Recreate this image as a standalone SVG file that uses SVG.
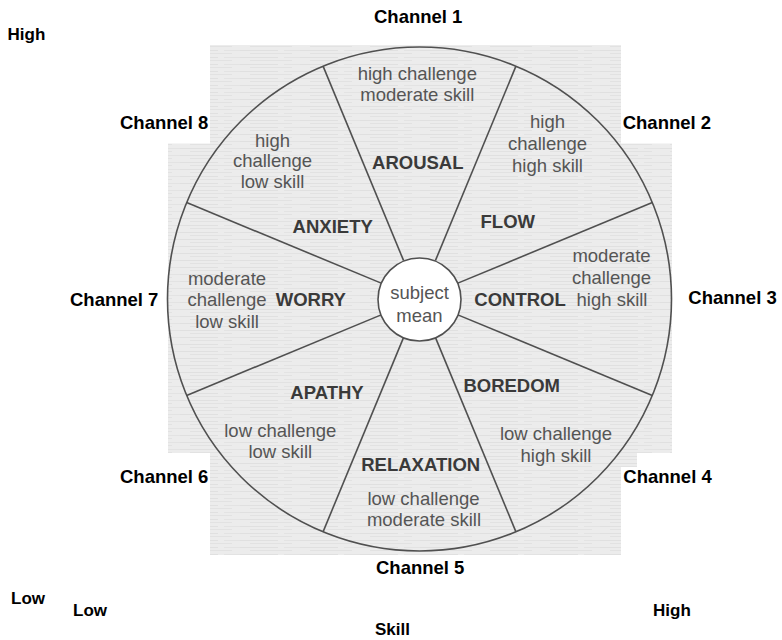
<svg xmlns="http://www.w3.org/2000/svg" width="782" height="640" viewBox="0 0 782 640">
<defs>
<pattern id="paper" patternUnits="userSpaceOnUse" width="60" height="7">
<rect width="60" height="7" fill="#ececec"/>
<line x1="0" y1="1.5" x2="38" y2="1.5" stroke="#e0e0e0" stroke-width="1"/>
<line x1="44" y1="1.5" x2="60" y2="1.5" stroke="#e3e3e3" stroke-width="1"/>
<line x1="10" y1="4.5" x2="52" y2="4.5" stroke="#e2e2e2" stroke-width="1"/>
</pattern>
<style>
.lab{font-family:"Liberation Sans",Arial,Helvetica,sans-serif;font-weight:bold;font-size:18.5px;fill:#000}
.ax{font-family:"Liberation Sans",Arial,Helvetica,sans-serif;font-weight:bold;font-size:17px;fill:#000}
.d{font-family:"Liberation Sans",Arial,Helvetica,sans-serif;font-size:18.5px;fill:#555;text-anchor:middle}
.b{font-family:"Liberation Sans",Arial,Helvetica,sans-serif;font-weight:bold;font-size:18.5px;fill:#3a3a3a;text-anchor:middle}
.ln{stroke:#505050;stroke-width:1.6;fill:none}
</style>
</defs>
<rect width="782" height="640" fill="#fff"/>
<g id="background">
<path d="M210 45 H621 V143.5 H672 V453 H637 V467 H621 V555 H210 V453 H168 V143.5 H210 Z" fill="url(#paper)"/>
</g>
<g id="wheel">
<circle cx="419.5" cy="299" r="252" class="ln"/>
</g>
<g id="connectors" class="ln">
<line x1="435.38" y1="260.66" x2="515.94" y2="66.18"/>
<line x1="457.84" y1="283.12" x2="652.32" y2="202.56"/>
<line x1="457.84" y1="314.88" x2="652.32" y2="395.44"/>
<line x1="435.38" y1="337.34" x2="515.94" y2="531.82"/>
<line x1="403.62" y1="337.34" x2="323.06" y2="531.82"/>
<line x1="381.16" y1="314.88" x2="186.68" y2="395.44"/>
<line x1="381.16" y1="283.12" x2="186.68" y2="202.56"/>
<line x1="403.62" y1="260.66" x2="323.06" y2="66.18"/>
</g>
<g id="hub">
<circle cx="419.5" cy="299.5" r="41.5" fill="#fff" stroke="#505050" stroke-width="1.6"/>
<text class="d" x="419.5" y="299">subject</text>
<text class="d" x="419.5" y="322">mean</text>
</g>
<g id="sector1">
<text class="d" x="417.3" y="79.5">high challenge</text>
<text class="d" x="417.3" y="100.7">moderate skill</text>
<text class="b" x="417.8" y="169.3">AROUSAL</text>
</g>
<g id="sector2">
<text class="d" x="547.5" y="128.3">high</text>
<text class="d" x="547.5" y="150">challenge</text>
<text class="d" x="547.5" y="172">high skill</text>
<text class="b" x="507.8" y="228.3">FLOW</text>
</g>
<g id="sector3">
<text class="d" x="611.5" y="262.3">moderate</text>
<text class="d" x="611.5" y="284.3">challenge</text>
<text class="d" x="612" y="305.7">high skill</text>
<text class="b" x="520" y="305.7">CONTROL</text>
</g>
<g id="sector4">
<text class="b" x="511.7" y="392.3">BOREDOM</text>
<text class="d" x="556" y="440">low challenge</text>
<text class="d" x="556" y="461.7">high skill</text>
</g>
<g id="sector5">
<text class="b" x="420.7" y="470.5">RELAXATION</text>
<text class="d" x="423.5" y="505">low challenge</text>
<text class="d" x="424" y="526">moderate skill</text>
</g>
<g id="sector6">
<text class="b" x="327" y="399">APATHY</text>
<text class="d" x="280.3" y="436.7">low challenge</text>
<text class="d" x="280.3" y="458.3">low skill</text>
</g>
<g id="sector7">
<text class="d" x="227" y="284.5">moderate</text>
<text class="d" x="227" y="306">challenge</text>
<text class="d" x="227" y="327.7">low skill</text>
<text class="b" x="310.8" y="306">WORRY</text>
</g>
<g id="sector8">
<text class="d" x="272.5" y="146.7">high</text>
<text class="d" x="272.5" y="166.7">challenge</text>
<text class="d" x="272.5" y="187.7">low skill</text>
<text class="b" x="332.7" y="232.7">ANXIETY</text>
</g>
<g id="channel-labels">
<text class="lab" x="374" y="23.3">Channel 1</text>
<text class="lab" x="622.7" y="129.3">Channel 2</text>
<text class="lab" x="688.3" y="304.3">Channel 3</text>
<text class="lab" x="623.3" y="482.7">Channel 4</text>
<text class="lab" x="376" y="574">Channel 5</text>
<text class="lab" x="120" y="482.7">Channel 6</text>
<text class="lab" x="70" y="305.7">Channel 7</text>
<text class="lab" x="120" y="128.5">Channel 8</text>
</g>
<g id="axis-labels">
<text class="ax" x="7.5" y="40">High</text>
<text class="ax" x="11" y="604">Low</text>
<text class="ax" x="73" y="616">Low</text>
<text class="ax" x="653" y="616">High</text>
<text class="ax" x="375" y="635">Skill</text>
</g>
</svg>
